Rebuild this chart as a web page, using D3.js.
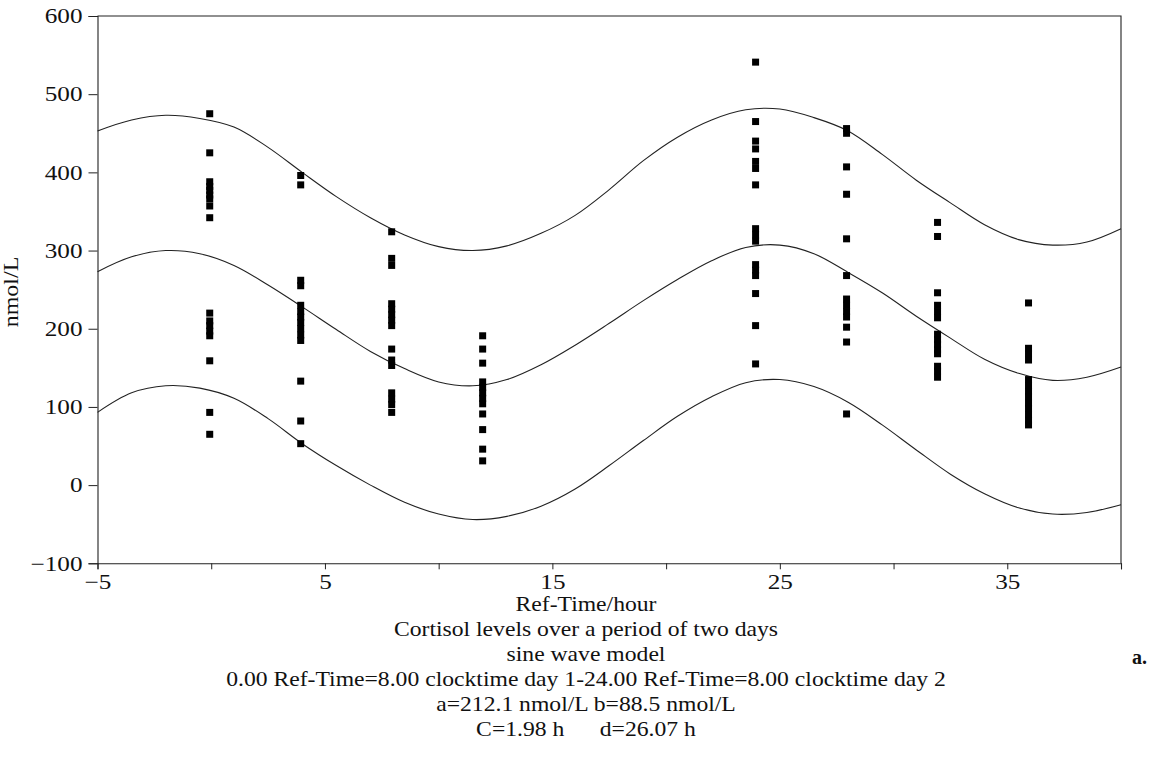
<!DOCTYPE html>
<html>
<head>
<meta charset="utf-8">
<script src="https://cdn.jsdelivr.net/npm/d3@7"></script>
<style>
  body { margin: 0; background: #fff; }
  text { font-family: "Liberation Serif", "Times New Roman", serif; fill: #111; }
</style>
</head>
<body>
<div id="chart"></div>
<script>
// measured cortisol values (nmol/L) per sampling time (Ref-Time, hours)
var sampleTimes = [0, 4, 8, 12, 24, 28, 32, 36];
var h0  = [475, 425, 388, 382, 377, 371, 366, 357, 342, 220, 210, 204, 197, 191, 159, 93, 65];
var h4  = [396, 384, 262, 255, 230, 222, 215, 208, 200, 192, 185, 133, 82, 53];
var h8  = [324, 290, 281, 232, 225, 218, 211, 204, 174, 160, 153, 118, 110, 103, 93];
var h12 = [191, 174, 156, 132, 125, 118, 111, 104, 91, 71, 46, 31];
var h24 = [541, 465, 440, 430, 414, 405, 384, 328, 320, 312, 282, 275, 268, 245, 204, 155];
var h28 = [456, 450, 407, 372, 315, 268, 238, 230, 222, 215, 202, 183, 91];
var h32 = [336, 318, 246, 230, 222, 214, 193, 186, 180, 173, 168, 152, 146, 138];
var h36 = [233, 175, 168, 160, 135, 127, 120, 113, 105, 98, 90, 83, 77];

// fitted sine wave and its band
var curveTimes = [-5, -3.5, -2, -0.5, 1, 2.5, 4, 5.5, 7, 8.5, 10, 11.5, 13, 14.5, 16, 17.5,
                  19, 20.5, 22, 23.5, 25, 26.5, 28, 29.5, 31, 32.5, 34, 35.5, 37, 38.5, 40];
var upperBand = [453, 467, 473, 469, 458, 432, 400, 369, 342, 320, 305, 300, 306, 322, 345, 378,
                 415, 445, 467, 480, 481, 470, 453, 423, 390, 361, 333, 314, 307, 311, 328];
var sineFit   = [273, 292, 300, 296, 281, 256, 228, 199, 171, 149, 132, 127, 135, 154, 179, 207,
                 236, 263, 287, 304, 307, 296, 272, 246, 216, 188, 161, 143, 134, 138, 151];
var lowerBand = [93, 118, 127, 124, 111, 85, 53, 25, 0, -22, -37, -44, -40, -27, -5, 25,
                 57, 88, 113, 131, 135, 126, 106, 77, 45, 14, -11, -29, -37, -35, -25];

var xTicks = [-5, 0, 5, 10, 15, 20, 25, 30, 35, 40];
var xLabelled = [-5, 5, 15, 25, 35];
var yTicks = [-100, 0, 100, 200, 300, 400, 500, 600];

var captionLines = [
  "Ref-Time/hour",
  "Cortisol levels over a period of two days",
  "sine wave model",
  "0.00 Ref-Time=8.00 clocktime day 1-24.00 Ref-Time=8.00 clocktime day 2",
  "a=212.1 nmol/L b=88.5 nmol/L",
  "C=1.98 h\u00a0\u00a0\u00a0\u00a0\u00a0\u00a0d=26.07 h"
];

var W = 1160, H = 772;
var plotLeft = 97.5, plotRight = 1121, plotTop = 16, plotBottom = 563.3;
var stretch = 1.2; // the printed font is wide

var svg = d3.select("#chart").append("svg")
    .attr("width", W)
    .attr("height", H);

var x = d3.scaleLinear().domain([-5, 40]).range([plotLeft, plotRight]);
var y = d3.scaleLinear().domain([-100, 600]).range([plotBottom, plotTop]);

var minus = function(v) { return v < 0 ? "\u2212" + Math.abs(v) : String(v); };

// frame (top and right sides)
svg.append("path")
    .attr("d", "M" + plotLeft + "," + plotTop + "H" + plotRight + "V" + plotBottom)
    .attr("fill", "none")
    .attr("stroke", "#222")
    .attr("stroke-width", 1.1);

// x axis
var xAxis = d3.axisBottom(x)
    .tickValues(xTicks)
    .tickSize(6)
    .tickPadding(5)
    .tickFormat(function(d) { return xLabelled.indexOf(d) >= 0 ? minus(d) : ""; });

var gx = svg.append("g")
    .attr("transform", "translate(0," + plotBottom + ")")
    .call(xAxis);
gx.select(".domain").attr("stroke", "#222").attr("stroke-width", 1.1);
gx.selectAll(".tick line").attr("stroke", "#222");
gx.selectAll(".tick text")
    .attr("font-family", "Liberation Serif")
    .attr("font-size", 21)
    .attr("fill", "#111")
    .attr("transform", "scale(" + stretch + ",1)");

// y axis
var yAxis = d3.axisLeft(y)
    .tickValues(yTicks)
    .tickSize(9)
    .tickPadding(4)
    .tickFormat(minus);

var gy = svg.append("g")
    .attr("transform", "translate(" + plotLeft + ",0)")
    .call(yAxis);
gy.select(".domain").attr("stroke", "#222").attr("stroke-width", 1.1);
gy.selectAll(".tick line").attr("stroke", "#222");
gy.selectAll(".tick text")
    .attr("font-family", "Liberation Serif")
    .attr("font-size", 21)
    .attr("fill", "#111")
    .attr("x", -15 / stretch)
    .attr("transform", "scale(" + stretch + ",1)");

// y axis title
svg.append("text")
    .attr("transform", "translate(18,292) rotate(-90) scale(" + stretch + ",1)")
    .attr("text-anchor", "middle")
    .attr("font-size", 20)
    .text("nmol/L");

// curves
var line = d3.line()
    .x(function(d) { return x(d[0]); })
    .y(function(d) { return y(d[1]); })
    .curve(d3.curveCatmullRom);

[upperBand, sineFit, lowerBand].forEach(function(series) {
    svg.append("path")
        .datum(curveTimes.map(function(t, i) { return [t, series[i]]; }))
        .attr("d", line)
        .attr("fill", "none")
        .attr("stroke", "#222")
        .attr("stroke-width", 1.1);
});

// observations
var groups = [h0, h4, h8, h12, h24, h28, h32, h36];
var points = [];
groups.forEach(function(vals, i) {
    vals.forEach(function(v) { points.push([sampleTimes[i], v]); });
});

var size = 7;
svg.append("g").selectAll("rect")
    .data(points)
    .enter()
    .append("rect")
    .attr("x", function(d) { return x(d[0]) - size / 2 - 1.5; })
    .attr("y", function(d) { return y(d[1]) - size / 2; })
    .attr("width", size)
    .attr("height", size)
    .attr("fill", "#000");

// caption below the axis
svg.append("g").selectAll("text")
    .data(captionLines)
    .enter()
    .append("text")
    .attr("transform", function(d, i) {
        return "translate(586," + (611 + i * 25) + ") scale(1.1,1)";
    })
    .attr("text-anchor", "middle")
    .attr("font-size", 21.5)
    .text(function(d) { return d; });

svg.append("text")
    .attr("x", 1132)
    .attr("y", 664)
    .attr("font-size", 20)
    .attr("font-weight", "bold")
    .text("a.");
</script>
</body>
</html>
